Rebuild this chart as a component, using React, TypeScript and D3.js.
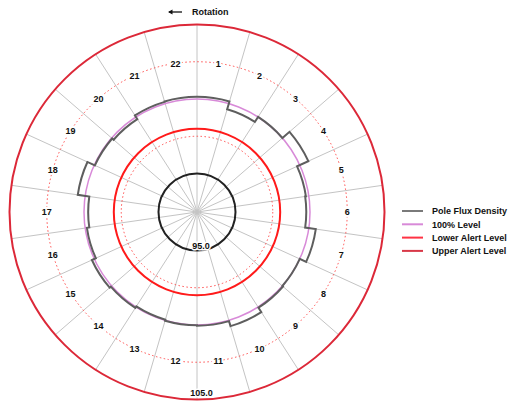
import React from "react";
import * as d3 from "d3";

const poles: number[] = Array.from({ length: 22 }, (_, i) => i + 1);
const fluxValues: number[] = [
  100.15, 99.6, 100.0, 100.63, 99.8, 99.75, 100.47, 100.0, 100.05, 100.4, 100.05,
  100.02, 99.95, 100.07, 100.17, 99.88, 99.72, 100.5, 99.95, 99.82, 100.12, 100.15,
];
const radialDomain: [number, number] = [95, 105];
const gridLevels: number[] = [97.5, 102.5];
const level100 = 100;
const lowerAlert = 98;
const upperAlert = 105;
const innerLabel = "95.0";
const outerLabel = "105.0";
const legendItems = [
  { label: "Pole Flux Density", color: "#7a7a7a" },
  { label: "100% Level", color: "#d88ad8" },
  { label: "Lower Alert Level", color: "#ff3344" },
  { label: "Upper Alert Level", color: "#d83848" },
];

const W = 508;
const H = 401;
const cx = 197;
const cy = 212;
const FONT = "'Liberation Sans', Arial, sans-serif";

export default function App() {
  const r = d3.scaleLinear().domain(radialDomain).range([38.5, 187.5]);
  const n = poles.length;
  const ang = d3
    .scaleLinear()
    .domain([0, n])
    .range([0, 2 * Math.PI]);
  const pt = (theta: number, rad: number): [number, number] => [
    cx + rad * Math.sin(theta),
    cy - rad * Math.cos(theta),
  ];

  // stepped pole flux path
  const p = d3.path();
  fluxValues.forEach((v, i) => {
    const a0 = ang(i);
    const a1 = ang(i + 1);
    const rr = r(v);
    const [x0, y0] = pt(a0, rr);
    if (i === 0) p.moveTo(x0, y0);
    else p.lineTo(x0, y0);
    p.arc(cx, cy, rr, a0 - Math.PI / 2, a1 - Math.PI / 2, false);
  });
  {
    const [x0, y0] = pt(ang(0), r(fluxValues[0]));
    p.lineTo(x0, y0);
  }

  const spokes = d3.range(n).map((i) => {
    const [x, y] = pt(ang(i), r(radialDomain[1]));
    return { x, y };
  });

  const labelR = r(gridLevels[1]);

  return (
    <svg
      width={W}
      height={H}
      style={{ position: "absolute", left: 0, top: 0, background: "#fff" }}
      fontFamily={FONT}
    >
      <rect x={0} y={0} width={W} height={H} fill="#fff" />
      {/* spokes */}
      {spokes.map((s, i) => (
        <line key={i} x1={cx} y1={cy} x2={s.x} y2={s.y} stroke="#c4c4c4" strokeWidth={1} />
      ))}
      {/* dotted grid rings */}
      {gridLevels.map((g, i) => (
        <circle
          key={i}
          cx={cx}
          cy={cy}
          r={r(g)}
          fill="none"
          stroke="#ff4d4d"
          strokeWidth={1}
          strokeDasharray="1.5 2.5"
        />
      ))}
      {/* inner circle */}
      <circle cx={cx} cy={cy} r={r(radialDomain[0])} fill="none" stroke="#222" strokeWidth={2} />
      {/* lower alert */}
      <circle cx={cx} cy={cy} r={r(lowerAlert)} fill="none" stroke="#ff1a1a" strokeWidth={2} />
      {/* upper alert / outer */}
      <circle cx={cx} cy={cy} r={r(upperAlert)} fill="none" stroke="#dc2838" strokeWidth={2} />
      {/* 100% level */}
      <circle cx={cx} cy={cy} r={r(level100)} fill="none" stroke="#d88ad8" strokeWidth={1.5} />
      {/* pole flux */}
      <path d={p.toString()} fill="none" stroke="#5e5e5e" strokeWidth={2} />

      {/* pole labels */}
      {poles.map((pl, i) => {
        const [x, y] = pt(ang(i + 0.5), labelR);
        return (
          <text
            key={pl}
            x={x}
            y={y + 3.3}
            textAnchor="middle"
            fontSize={9}
            fontWeight="bold"
            fill="#111"
            stroke="#fff"
            strokeWidth={4}
            paintOrder="stroke"
          >
            {pl}
          </text>
        );
      })}

      <text
        x={cx + 4}
        y={cy + 36.5}
        textAnchor="middle"
        fontSize={9}
        fontWeight="bold"
        fill="#111"
        stroke="#fff"
        strokeWidth={3}
        paintOrder="stroke"
      >
        {innerLabel}
      </text>
      <text
        x={cx + 4.5}
        y={cy + 184}
        textAnchor="middle"
        fontSize={9}
        fontWeight="bold"
        fill="#111"
        stroke="#fff"
        strokeWidth={3}
        paintOrder="stroke"
      >
        {outerLabel}
      </text>

      {/* rotation */}
      <g>
        <line x1={169} y1={12} x2={182} y2={12} stroke="#111" strokeWidth={1.3} />
        <path d="M168,12 L172.5,9.5 L172.5,14.5 Z" fill="#111" />
        <text x={192} y={15.3} fontSize={9} fontWeight="bold" fill="#111">
          Rotation
        </text>
      </g>

      {/* legend */}
      {legendItems.map((it, i) => {
        const y = 211 + i * 13.3;
        return (
          <g key={it.label}>
            <line x1={402} y1={y} x2={423} y2={y} stroke={it.color} strokeWidth={2} />
            <text x={432} y={y + 3.3} fontSize={9} fontWeight="bold" fill="#111">
              {it.label}
            </text>
          </g>
        );
      })}
    </svg>
  );
}
